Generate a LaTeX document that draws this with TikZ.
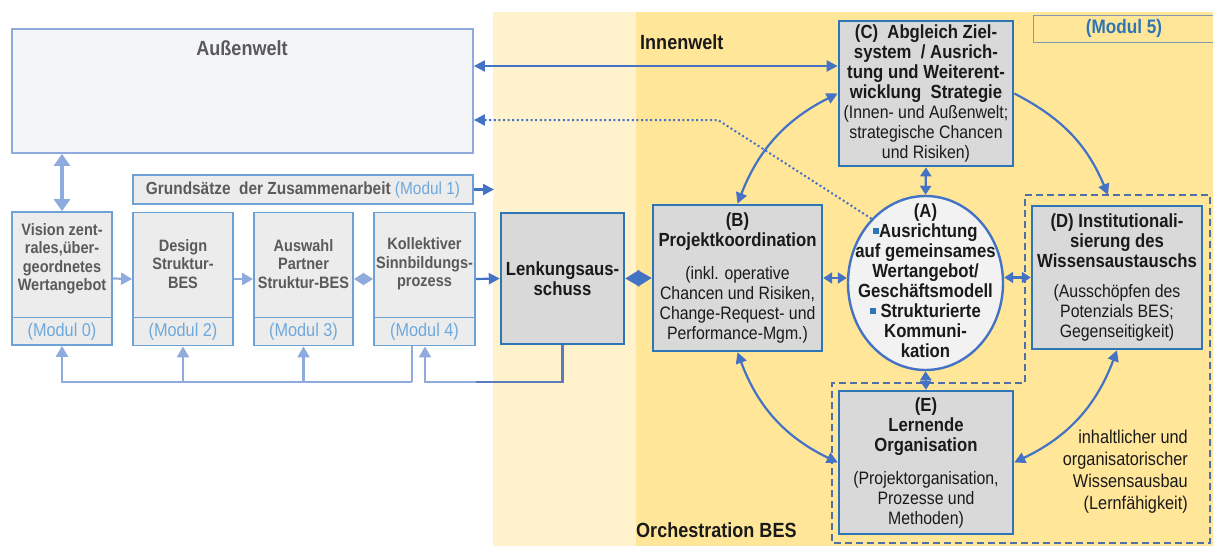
\documentclass[tikz,border=0pt]{standalone}
\usepackage{fontspec}
\setmainfont{Liberation Sans}[FakeStretch=0.88]
\usetikzlibrary{arrows.meta,shapes.geometric}

\definecolor{darkyellow}{HTML}{FFE699}
\definecolor{lightyellow}{HTML}{FFF2CC}
\definecolor{boxgray}{HTML}{D9D9D9}
\definecolor{boxborder}{HTML}{2E75B6}
\definecolor{modborder}{HTML}{6EA2D6}
\definecolor{modfill}{HTML}{ECECEC}
\definecolor{outerborder}{HTML}{8FAADC}
\definecolor{outerfill}{HTML}{F4F5F9}
\definecolor{arrowblue}{HTML}{4472C4}
\definecolor{lightarrow}{HTML}{8FAADC}
\definecolor{modtextgray}{HTML}{5A5A5A}
\definecolor{modlabel}{HTML}{6FA8DC}
\definecolor{fbdark}{HTML}{5B7CB8}
\definecolor{dashcol}{HTML}{4F6FA8}
\definecolor{mfiveborder}{HTML}{8497B0}
\definecolor{mfivetext}{HTML}{2E75B6}
\definecolor{circfill}{HTML}{F2F2F2}
\definecolor{bulletblue}{HTML}{2E75B6}
\definecolor{inktext}{HTML}{1A1A1A}

\newcommand\sqb{\textcolor{bulletblue}{\rule[0.22em]{0.3em}{0.3em}}}
\newcommand\bfnt{\fontsize{19}{20}\selectfont\bfseries}
\newcommand\rgfnt{\fontsize{18}{20}\selectfont\mdseries}

\tikzset{
  outerbox/.style={draw=outerborder, fill=outerfill, line width=1.8pt},
  modbox/.style={draw=modborder, fill=modfill, line width=1.8pt,
    minimum width=100pt, minimum height=133pt},
  modtext/.style={align=center, text=modtextgray, inner sep=0pt,
    font=\fontsize{16.5}{18.5}\selectfont\bfseries},
  modlab/.style={text=modlabel, inner sep=0pt, font=\fontsize{18.5}{20}\selectfont},
  modline/.style={draw=modborder, line width=0.8pt},
  darkbox/.style={draw=boxborder, fill=boxgray, line width=2.4pt, align=center,
    text=inktext, inner sep=1pt, font=\fontsize{19}{20}\selectfont\bfseries},
  circnode/.style={ellipse, draw=arrowblue, fill=circfill, line width=2.4pt, inner sep=0pt},
  circtext/.style={align=center, text=inktext, inner sep=0pt,
    font=\fontsize{19}{20}\selectfont\bfseries},
  mfivebox/.style={draw=mfiveborder, line width=1pt, text=mfivetext,
    font=\fontsize{19.5}{21}\selectfont\bfseries},
  heading/.style={text=inktext, inner sep=0pt, font=\fontsize{20.5}{22}\selectfont\bfseries},
  arr/.style={draw=arrowblue, line width=2.2pt, -{Triangle[length=11pt,width=11pt]}},
  darr/.style={draw=arrowblue, line width=2.2pt,
    {Triangle[length=11pt,width=11pt]}-{Triangle[length=11pt,width=11pt]}},
  smalldarr/.style={draw=arrowblue, line width=2.2pt,
    {Triangle[length=9pt,width=11pt]}-{Triangle[length=9pt,width=11pt]}},
  bigdarr/.style={draw=arrowblue, line width=2.4pt,
    {Triangle[length=14pt,width=16pt]}-{Triangle[length=14pt,width=16pt]}},
  lightarr/.style={draw=lightarrow, line width=2.2pt, -{Triangle[length=11pt,width=12pt]}},
  lightdarr/.style={draw=lightarrow, line width=2.2pt,
    {Triangle[length=10pt,width=12pt]}-{Triangle[length=10pt,width=12pt]}},
  thickdarr/.style={draw=lightarrow, line width=4pt,
    {Triangle[length=12pt,width=16pt]}-{Triangle[length=12pt,width=16pt]}},
  dotarr/.style={draw=arrowblue, line width=2pt, dash pattern=on 2pt off 2.6pt,
    -{Triangle[length=11pt,width=11pt]}},
  fblight/.style={draw=lightarrow, line width=2.2pt},
  fbdarkline/.style={draw=fbdark, line width=2.2pt},
  dashout/.style={draw=dashcol, line width=2pt, dash pattern=on 7pt off 4pt},
}

\begin{document}
\begin{tikzpicture}[x=1pt, y=-1pt]
\useasboundingbox (0,0) rectangle (1213,546);

% background areas
\fill[white] (0,0) rectangle (1213,546);
\fill[lightyellow] (493,12) rectangle (636,546);
\fill[darkyellow] (636,12) rectangle (1213,546);

% outer world
\node[outerbox, minimum width=461pt, minimum height=124pt] (aussen) at (242.5,91) {};
\node[text=modtextgray, inner sep=0pt, font=\fontsize{20.5}{22}\selectfont\bfseries]
  (aussentxt) at (242,48) {Außenwelt};

% principles bar
\node[modbox, minimum width=340pt, minimum height=29pt, inner sep=0pt,
  font=\fontsize{17.5}{19}\selectfont] (grund) at (303,189.5)
  {\textcolor{modtextgray}{\bfseries Grundsätze\ \ der Zusammenarbeit}\ \textcolor{modlabel}{(Modul 1)}};

% module boxes
\node[modbox] (vision) at (62,278.5) {};
\node[modbox] (design) at (183,279) {};
\node[modbox, minimum width=99pt] (auswahl) at (303.5,279) {};
\node[modbox, minimum width=101pt] (kollektiv) at (424.5,279) {};

\coordinate (dv) at (0,317);
\draw[modline] (vision.west |- dv) -- (vision.east |- dv);
\draw[modline] (design.west |- dv) -- (design.east |- dv);
\draw[modline] (auswahl.west |- dv) -- (auswahl.east |- dv);
\draw[modline] (kollektiv.west |- dv) -- (kollektiv.east |- dv);

\node[modtext] (visiontxt) at (62,259) {Vision zent-\\rales,über-\\geordnetes\\Wertangebot};
\node[modtext] (designtxt) at (183,264) {Design\\Struktur-\\BES};
\node[modtext] (auswahltxt) at (303.5,264) {Auswahl\\Partner\\Struktur-BES};
\node[modtext] (kolltxt) at (424.5,264) {Kollektiver\\Sinnbildungs-\\prozess};

\node[modlab] (mod0) at (62,332) {(Modul 0)};
\node[modlab] (mod2) at (183,332) {(Modul 2)};
\node[modlab] (mod3) at (303.5,332) {(Modul 3)};
\node[modlab] (mod4) at (424.5,332) {(Modul 4)};

% steering committee and orchestration boxes
\node[darkbox, minimum width=123pt, minimum height=131pt] (lenk) at (562.5,278.5)
  {Lenkungsaus-\\schuss};

\node[darkbox, minimum width=169pt, minimum height=146pt] (B) at (737.5,278)
  {(B)\\Projektkoordination\\[13pt]
   {\rgfnt (inkl. operative}\\
   {\rgfnt Chancen und Risiken,}\\
   {\rgfnt Change-Request- und}\\
   {\rgfnt Performance-Mgm.)}};

\node[circnode, minimum width=155pt, minimum height=174pt] (A) at (925.5,283) {};
\node[circtext] (atext) at (925.5,281)
  {(A)\\\sqb Ausrichtung\\auf gemeinsames\\Wertangebot/\\Geschäftsmodell\\
   \sqb\ Strukturierte\\Kommuni-\\kation};

\node[darkbox, minimum width=174pt, minimum height=145pt, line width=2.7pt] (C) at (926,93.5)
  {(C)\ \ Abgleich Ziel-\\system\ \ /\ Ausrich-\\tung und Weiterent-\\wicklung\ \ Strategie\\
   {\rgfnt (Innen- und Außenwelt;}\\
   {\rgfnt strategische Chancen}\\
   {\rgfnt und Risiken)}};

\node[darkbox, minimum width=170pt, minimum height=143pt] (D) at (1117,277.5)
  {(D) Institutionali-\\sierung des\\Wissensaustauschs\\[10pt]
   {\rgfnt (Ausschöpfen des}\\
   {\rgfnt Potenzials BES;}\\
   {\rgfnt Gegenseitigkeit)}};

\node[darkbox, minimum width=174pt, minimum height=143pt] (E) at (926,462.5)
  {(E)\\Lernende\\Organisation\\[13pt]
   {\rgfnt (Projektorganisation,}\\
   {\rgfnt Prozesse und}\\
   {\rgfnt Methoden)}};

% module 5 tag and area labels
\node[mfivebox, minimum width=182pt, minimum height=27pt] (m5) at (1124,28.5) {(Modul 5)};
\node[heading, anchor=west] (innen) at (640,42) {Innenwelt};
\node[heading, anchor=west] (orch) at (636,530) {Orchestration BES};
\node[anchor=east, align=right, inner sep=0pt, text=inktext,
  font=\fontsize{18.5}{22}\selectfont] (wissen) at (1188,471.5)
  {inhaltlicher und\\organisatorischer\\Wissensausbau\\(Lernfähigkeit)};

% dashed grouping of D and E
\draw[dashout] (1025,195) -- (1210,195) -- (1210,543) -- (832,543) -- (832,383)
  -- (1025,383) -- cycle;

% connectors on the left
\draw[thickdarr] (aussen.south -| vision.north) -- (vision.north);
\coordinate (g1) at (494,189.5);
\draw[arr] (grund.east) -- (g1);
\draw[lightarr] (vision.east) -- (design.west);
\draw[lightarr] (design.east) -- (auswahl.west);
\draw[lightdarr] (auswahl.east) -- (kollektiv.west);
\draw[arr] (kollektiv.east) -- (lenk.west);

% feedback lines below the modules
\coordinate (fbk) at (412,382);
\coordinate (fbm) at (476,382);
\coordinate (fbl) at (425,382);
\draw[fblight] (kollektiv.south -| fbk) -- (fbk);
\draw[fblight, -{Triangle[length=11pt,width=12pt]}] (fbk) -| (vision.south);
\draw[lightarr] (design.south |- fbk) -- (design.south);
\draw[lightarr] (auswahl.south |- fbk) -- (auswahl.south);
\draw[fbdarkline] (lenk.south) |- (fbm);
\draw[lightarr] (fbm) -| (kollektiv.south -| fbl);

% connectors in the inner world
\coordinate (h1) at (0,66);
\draw[darr] (aussen.east |- h1) -- (C.west |- h1);
\coordinate (k1) at (718,120);
\draw[dotarr] (A.130) -- (k1) -- (aussen.east |- k1);
\draw[bigdarr] (lenk.east) -- (B.west);
\draw[smalldarr] (B.east) -- (B.east -| A.west);
\draw[smalldarr] (A.east |- D.west) -- (D.west);
\draw[smalldarr] (C.south) -- (A.north);
\draw[smalldarr] (A.south) -- (E.north);

% circular flow around (A)
\coordinate (dtop) at (1108,195);
\draw[darr] (B.north) to[bend left=21] (C.west);
\draw[arr] (C.east) to[bend left=20] (dtop);
\draw[darr] (D.south) to[bend left=22] (E.east);
\draw[darr] (E.west) to[bend left=22] (B.south);
\end{tikzpicture}
\end{document}
